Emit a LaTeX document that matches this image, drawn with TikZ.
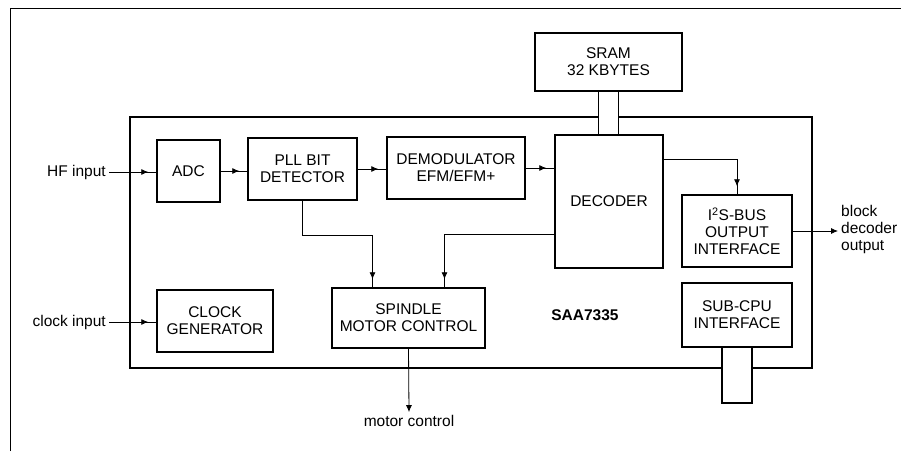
\documentclass[tikz,border=0pt]{standalone}
\usepackage{fontspec}
\setmainfont{Liberation Sans}
\usetikzlibrary{arrows.meta,decorations.markings}
\tikzset{
  block/.style={draw, line width=1.5pt, align=center, inner sep=2pt},
  chipline/.style={line width=1.5pt},
  sig/.style={line width=0.8pt, postaction={decorate},
    decoration={markings, mark=at position -8pt with {\arrow{Latex[length=7pt,width=6pt]}}}},
  sigend/.style={line width=0.8pt, -{Latex[length=7pt,width=6pt]}},
  pinlabel/.style={inner sep=3pt}
}

\begin{document}
\begin{tikzpicture}[x=1pt, y=-1pt, every node/.style={font=\fontsize{15.5}{17}\selectfont}]
  \useasboundingbox (0,0) rectangle (901,451);
  % page frame
  \draw[line width=1pt] (10,451) -- (10,8) -- (901,8);

  \node[block, minimum width=63pt, minimum height=62pt] (adc) at (188.5,171) {ADC};
  \node[block, minimum width=109pt, minimum height=62pt] (pll) at (302.5,169) {PLL BIT\\DETECTOR};
  \node[block, minimum width=138pt, minimum height=62pt] (demod) at (456,168) {DEMODULATOR\\EFM/EFM+};
  \node[block, minimum width=108pt, minimum height=133pt] (decoder) at (609,201.5) {DECODER};
  \node[block, minimum width=147pt, minimum height=58pt] (sram) at (608.5,62) {SRAM\\32 KBYTES};
  \node[block, minimum width=110pt, minimum height=72pt] (i2s) at (737,231) {I\textsuperscript{2}S-BUS\\OUTPUT\\INTERFACE};
  \node[block, minimum width=110pt, minimum height=64pt] (subcpu) at (737,315) {SUB-CPU\\INTERFACE};
  \node[block, minimum width=116pt, minimum height=62pt] (clock) at (215,321) {CLOCK\\GENERATOR};
  \node[block, minimum width=153pt, minimum height=60pt] (spindle) at (408.5,318) {SPINDLE\\MOTOR CONTROL};
  \node[font=\fontsize{15.5}{17}\selectfont\bfseries] (chipname) at (585,315) {SAA7335};

  \node[pinlabel, anchor=east] (hfin) at (109,172) {HF input};
  \node[pinlabel, anchor=east] (clkin) at (109,322) {clock input};
  \node[pinlabel] (motor) at (409,421) {motor control};
  \node[pinlabel, anchor=west, align=left] (blockout) at (838,229) {block\\decoder\\output};

  % chip outline, open where the buses pass
  \coordinate (chipnw) at (130,117);
  \coordinate (chipse) at (812,368);
  \draw[chipline] ([xshift=-10pt]sram.south |- chipnw) -| (chipse -| chipnw) -- ([xshift=-15pt]subcpu.south |- chipse);
  \draw[chipline] ([xshift=15pt]subcpu.south |- chipse) -| (chipse |- chipnw) -- ([xshift=10pt]sram.south |- chipnw);

  % memory bus and sub-cpu bus
  \draw[chipline] ([xshift=-10pt]sram.south) -- ([xshift=-10pt]sram.south |- decoder.north);
  \draw[chipline] ([xshift=10pt]sram.south) -- ([xshift=10pt]sram.south |- decoder.north);
  \draw[chipline] ([xshift=-15pt]subcpu.south) -- ++(0,55) -- ++(30,0) -- ([xshift=15pt]subcpu.south);

  \draw[sig] (hfin.east) -- (hfin.east -| adc.west);
  \draw[sig] (adc.east) -- (adc.east -| pll.west);
  \draw[sig] (pll.east) -- (pll.east -| demod.west);
  \draw[sig] (demod.east) -- (demod.east -| decoder.west);
  \draw[sig] (decoder.north east) ++(0,25) -| (i2s.north);
  \draw[sigend] (i2s.east) -- (i2s.east -| blockout.west);
  \draw[sig] (pll.south) -- ++(0,35) -| ([xshift=-36pt]spindle.north);
  \draw[sig] ([yshift=-32.5pt]decoder.west) -| ([xshift=36pt]spindle.north);
  \draw[sig] (clkin.east) -- (clkin.east -| clock.west);
  \draw[sigend] (spindle.south) -- (motor.north);
\end{tikzpicture}
\end{document}
